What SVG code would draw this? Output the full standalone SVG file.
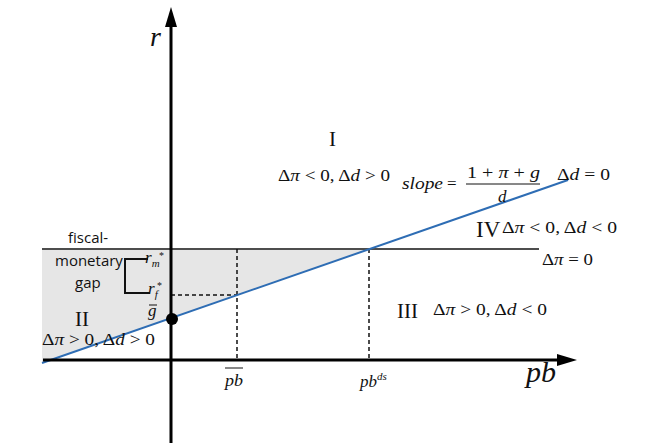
<svg xmlns="http://www.w3.org/2000/svg" width="646" height="443" viewBox="0 0 646 443">
<style>
.m{font-family:"Liberation Serif","Times New Roman",serif;font-size:17px;fill:#111}
.i{font-style:italic}
.roman{font-family:"Liberation Serif","Times New Roman",serif;font-size:21px;fill:#111}
.s{font-family:"Open Sans","Noto Sans",sans-serif;font-size:15px;fill:#111}
.sub{font-size:11px}
.dash{stroke:#111;stroke-width:1.5;stroke-dasharray:4 3;fill:none}
.axis{stroke:#000;stroke-width:3;fill:none}
</style>
<rect width="646" height="443" fill="#fff"/>
<g id="gap-area">
<polygon points="42,249 370,249 42,363" fill="#e6e6e6"/>
</g>
<g id="connectors">
<line x1="42" y1="249" x2="539" y2="249" stroke="#4d4d4d" stroke-width="2"/>
<line class="dash" x1="237" y1="249" x2="237" y2="360"/>
<line class="dash" x1="171" y1="295" x2="237" y2="295"/>
<line class="dash" x1="369" y1="249" x2="369" y2="360"/>
<line x1="42" y1="363" x2="568" y2="180" stroke="#2e6db4" stroke-width="2"/>
<polyline points="148,259 125,259 125,293 150,293" fill="none" stroke="#111" stroke-width="2"/>
</g>
<g id="axes">
<line class="axis" x1="171" y1="443" x2="171" y2="22"/>
<polygon points="171,7 165,27 177,27" fill="#000"/>
<line class="axis" x1="43" y1="360" x2="560" y2="360"/>
<polygon points="577,360 557,354 557,366" fill="#000"/>
<circle cx="172" cy="319" r="6" fill="#000"/>
</g>
<g id="labels">
<text class="m i" x="150" y="46" style="font-size:28px">r</text>
<text class="m i" x="526" y="382" style="font-size:30px">pb</text>
<text class="m i" x="225" y="386" textLength="18" lengthAdjust="spacingAndGlyphs">pb</text>
<line x1="225" y1="368" x2="243" y2="368" stroke="#111" stroke-width="1"/>
<text class="m i" x="360" y="387">pb<tspan class="sub" dy="-7">ds</tspan></text>
<text class="m i" x="145" y="263">r<tspan class="sub" dy="4">m</tspan></text>
<text class="m" x="159" y="259" style="font-size:10px">*</text>
<text class="m i" x="148" y="294">r<tspan class="sub" dy="4">f</tspan></text>
<text class="m" x="157" y="289" style="font-size:10px">*</text>
<text class="m i" x="148" y="316">g</text>
<line x1="149" y1="305" x2="157" y2="305" stroke="#111" stroke-width="1"/>
<text class="s" x="68" y="243">fiscal-</text>
<text class="s" x="55" y="266">monetary</text>
<text class="s" x="75" y="288">gap</text>
</g>
<g id="region-I">
<text class="roman" x="329" y="146">I</text>
<text class="m" x="278" y="181" textLength="112" lengthAdjust="spacingAndGlyphs">Δ<tspan class="i">π</tspan> &lt; 0, Δ<tspan class="i">d</tspan> &gt; 0</text>
</g>
<g id="slope">
<text class="m i" x="402" y="189" textLength="41" lengthAdjust="spacingAndGlyphs">slope</text>
<text class="m" x="447" y="189">=</text>
<text class="m" x="467" y="178" textLength="73" lengthAdjust="spacingAndGlyphs">1 + <tspan class="i">π</tspan> + <tspan class="i">g</tspan></text>
<line x1="466" y1="184" x2="540" y2="184" stroke="#111" stroke-width="1"/>
<text class="m i" x="498" y="202">d</text>
<text class="m" x="557" y="180" textLength="53" lengthAdjust="spacingAndGlyphs">Δ<tspan class="i">d</tspan> = 0</text>
</g>
<g id="region-IV">
<text class="roman" x="476" y="237" style="font-size:23px">IV</text>
<text class="m" x="502" y="233" textLength="115" lengthAdjust="spacingAndGlyphs">Δ<tspan class="i">π</tspan> &lt; 0, Δ<tspan class="i">d</tspan> &lt; 0</text>
<text class="m" x="542" y="265" textLength="51" lengthAdjust="spacingAndGlyphs">Δ<tspan class="i">π</tspan> = 0</text>
</g>
<g id="region-II">
<text class="roman" x="75" y="326">II</text>
<text class="m" x="42" y="345" textLength="113" lengthAdjust="spacingAndGlyphs">Δ<tspan class="i">π</tspan> &gt; 0, Δ<tspan class="i">d</tspan> &gt; 0</text>
</g>
<g id="region-III">
<text class="roman" x="397" y="318">III</text>
<text class="m" x="433" y="315" textLength="114" lengthAdjust="spacingAndGlyphs">Δ<tspan class="i">π</tspan> &gt; 0, Δ<tspan class="i">d</tspan> &lt; 0</text>
</g>
</svg>
